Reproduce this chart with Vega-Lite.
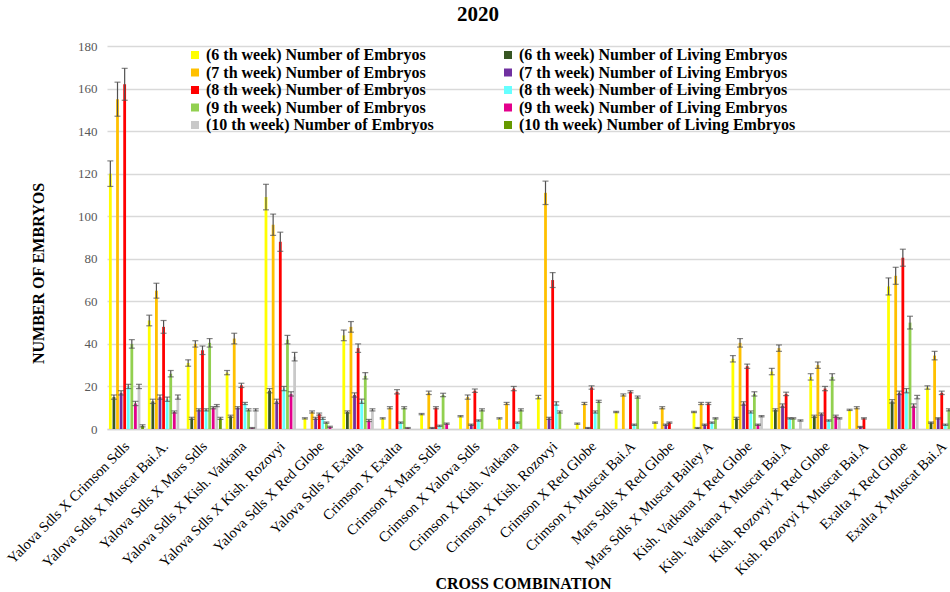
{
  "$schema": "https://vega.github.io/schema/vega-lite/v6.json",
  "autosize": "none",
  "width": 856,
  "height": 383,
  "padding": {"left": 107, "top": 46, "right": 0, "bottom": 163},
  "background": "white",
  "title": {"text": "2020", "font": "Liberation Serif", "fontSize": 21, "fontWeight": "bold", "color": "black", "anchor": "middle", "dx": -57, "offset": 15},
  "config": {"view": {"stroke": null}, "font": "Liberation Serif"},
  "data": {"values": [
{"c":"Yalova Sdls X Crimson Sdls","s":"(6 th week) Number of Embryos","v":120,"lo":114,"hi":126},
{"c":"Yalova Sdls X Crimson Sdls","s":"(6 th week) Number of Living Embryos","v":15,"lo":14,"hi":16},
{"c":"Yalova Sdls X Crimson Sdls","s":"(7 th week) Number of Embryos","v":155,"lo":147,"hi":163},
{"c":"Yalova Sdls X Crimson Sdls","s":"(7 th week) Number of Living Embryos","v":17,"lo":16,"hi":18},
{"c":"Yalova Sdls X Crimson Sdls","s":"(8 th week) Number of Embryos","v":162,"lo":154.5,"hi":169.5},
{"c":"Yalova Sdls X Crimson Sdls","s":"(8 th week) Number of Living Embryos","v":20,"lo":19,"hi":21},
{"c":"Yalova Sdls X Crimson Sdls","s":"(9 th week) Number of Embryos","v":40,"lo":38,"hi":42},
{"c":"Yalova Sdls X Crimson Sdls","s":"(9 th week) Number of Living Embryos","v":12,"lo":11,"hi":13},
{"c":"Yalova Sdls X Crimson Sdls","s":"(10 th week) Number of Embryos","v":20,"lo":19,"hi":21},
{"c":"Yalova Sdls X Crimson Sdls","s":"(10 th week) Number of Living Embryos","v":1.5,"lo":1,"hi":2},
{"c":"Yalova Sdls X Muscat Bai.A.","s":"(6 th week) Number of Embryos","v":51,"lo":48.5,"hi":53.5},
{"c":"Yalova Sdls X Muscat Bai.A.","s":"(6 th week) Number of Living Embryos","v":13,"lo":12,"hi":14},
{"c":"Yalova Sdls X Muscat Bai.A.","s":"(7 th week) Number of Embryos","v":65,"lo":61.5,"hi":68.5},
{"c":"Yalova Sdls X Muscat Bai.A.","s":"(7 th week) Number of Living Embryos","v":15,"lo":14,"hi":16},
{"c":"Yalova Sdls X Muscat Bai.A.","s":"(8 th week) Number of Embryos","v":48,"lo":45,"hi":51},
{"c":"Yalova Sdls X Muscat Bai.A.","s":"(8 th week) Number of Living Embryos","v":14,"lo":13,"hi":15},
{"c":"Yalova Sdls X Muscat Bai.A.","s":"(9 th week) Number of Embryos","v":26,"lo":24.5,"hi":27.5},
{"c":"Yalova Sdls X Muscat Bai.A.","s":"(9 th week) Number of Living Embryos","v":8,"lo":7.5,"hi":8.5},
{"c":"Yalova Sdls X Muscat Bai.A.","s":"(10 th week) Number of Embryos","v":15,"lo":14,"hi":16},
{"c":"Yalova Sdls X Muscat Bai.A.","s":"(10 th week) Number of Living Embryos","v":0},
{"c":"Yalova Sdls X Mars Sdls","s":"(6 th week) Number of Embryos","v":31,"lo":29.5,"hi":32.5},
{"c":"Yalova Sdls X Mars Sdls","s":"(6 th week) Number of Living Embryos","v":5,"lo":4.5,"hi":5.5},
{"c":"Yalova Sdls X Mars Sdls","s":"(7 th week) Number of Embryos","v":40,"lo":38.5,"hi":41.5},
{"c":"Yalova Sdls X Mars Sdls","s":"(7 th week) Number of Living Embryos","v":9,"lo":8.5,"hi":9.5},
{"c":"Yalova Sdls X Mars Sdls","s":"(8 th week) Number of Embryos","v":37,"lo":35,"hi":39},
{"c":"Yalova Sdls X Mars Sdls","s":"(8 th week) Number of Living Embryos","v":9,"lo":8.5,"hi":9.5},
{"c":"Yalova Sdls X Mars Sdls","s":"(9 th week) Number of Embryos","v":40.5,"lo":38.5,"hi":42.5},
{"c":"Yalova Sdls X Mars Sdls","s":"(9 th week) Number of Living Embryos","v":10,"lo":9.5,"hi":10.5},
{"c":"Yalova Sdls X Mars Sdls","s":"(10 th week) Number of Embryos","v":11,"lo":10.5,"hi":11.5},
{"c":"Yalova Sdls X Mars Sdls","s":"(10 th week) Number of Living Embryos","v":5,"lo":4.5,"hi":5.5},
{"c":"Yalova Sdls X Kish. Vatkana","s":"(6 th week) Number of Embryos","v":26.5,"lo":25.5,"hi":27.5},
{"c":"Yalova Sdls X Kish. Vatkana","s":"(6 th week) Number of Living Embryos","v":6,"lo":5.5,"hi":6.5},
{"c":"Yalova Sdls X Kish. Vatkana","s":"(7 th week) Number of Embryos","v":42.5,"lo":40,"hi":45},
{"c":"Yalova Sdls X Kish. Vatkana","s":"(7 th week) Number of Living Embryos","v":10,"lo":9.5,"hi":10.5},
{"c":"Yalova Sdls X Kish. Vatkana","s":"(8 th week) Number of Embryos","v":20.5,"lo":19.5,"hi":21.5},
{"c":"Yalova Sdls X Kish. Vatkana","s":"(8 th week) Number of Living Embryos","v":12,"lo":11.5,"hi":12.5},
{"c":"Yalova Sdls X Kish. Vatkana","s":"(9 th week) Number of Embryos","v":9,"lo":8.5,"hi":9.5},
{"c":"Yalova Sdls X Kish. Vatkana","s":"(9 th week) Number of Living Embryos","v":0.5,"lo":0.3,"hi":0.7},
{"c":"Yalova Sdls X Kish. Vatkana","s":"(10 th week) Number of Embryos","v":9,"lo":8.5,"hi":9.5},
{"c":"Yalova Sdls X Kish. Vatkana","s":"(10 th week) Number of Living Embryos","v":0},
{"c":"Yalova Sdls X Kish. Rozovyi","s":"(6 th week) Number of Embryos","v":109,"lo":103,"hi":115},
{"c":"Yalova Sdls X Kish. Rozovyi","s":"(6 th week) Number of Living Embryos","v":18,"lo":17,"hi":19},
{"c":"Yalova Sdls X Kish. Rozovyi","s":"(7 th week) Number of Embryos","v":96,"lo":91,"hi":101},
{"c":"Yalova Sdls X Kish. Rozovyi","s":"(7 th week) Number of Living Embryos","v":13,"lo":12,"hi":14},
{"c":"Yalova Sdls X Kish. Rozovyi","s":"(8 th week) Number of Embryos","v":88,"lo":83.5,"hi":92.5},
{"c":"Yalova Sdls X Kish. Rozovyi","s":"(8 th week) Number of Living Embryos","v":19,"lo":18,"hi":20},
{"c":"Yalova Sdls X Kish. Rozovyi","s":"(9 th week) Number of Embryos","v":42,"lo":40,"hi":44},
{"c":"Yalova Sdls X Kish. Rozovyi","s":"(9 th week) Number of Living Embryos","v":16.5,"lo":15.5,"hi":17.5},
{"c":"Yalova Sdls X Kish. Rozovyi","s":"(10 th week) Number of Embryos","v":34,"lo":32,"hi":36},
{"c":"Yalova Sdls X Kish. Rozovyi","s":"(10 th week) Number of Living Embryos","v":0},
{"c":"Yalova Sdls X Red Globe","s":"(6 th week) Number of Embryos","v":5,"lo":4.7,"hi":5.3},
{"c":"Yalova Sdls X Red Globe","s":"(6 th week) Number of Living Embryos","v":0},
{"c":"Yalova Sdls X Red Globe","s":"(7 th week) Number of Embryos","v":8,"lo":7.5,"hi":8.5},
{"c":"Yalova Sdls X Red Globe","s":"(7 th week) Number of Living Embryos","v":5,"lo":4.5,"hi":5.5},
{"c":"Yalova Sdls X Red Globe","s":"(8 th week) Number of Embryos","v":7,"lo":6.5,"hi":7.5},
{"c":"Yalova Sdls X Red Globe","s":"(8 th week) Number of Living Embryos","v":5,"lo":4.5,"hi":5.5},
{"c":"Yalova Sdls X Red Globe","s":"(9 th week) Number of Embryos","v":3,"lo":2.7,"hi":3.3},
{"c":"Yalova Sdls X Red Globe","s":"(9 th week) Number of Living Embryos","v":1,"lo":0.7,"hi":1.3},
{"c":"Yalova Sdls X Red Globe","s":"(10 th week) Number of Embryos","v":0},
{"c":"Yalova Sdls X Red Globe","s":"(10 th week) Number of Living Embryos","v":0},
{"c":"Yalova Sdls X Exalta","s":"(6 th week) Number of Embryos","v":44,"lo":41.5,"hi":46.5},
{"c":"Yalova Sdls X Exalta","s":"(6 th week) Number of Living Embryos","v":8,"lo":7.5,"hi":8.5},
{"c":"Yalova Sdls X Exalta","s":"(7 th week) Number of Embryos","v":48,"lo":45.5,"hi":50.5},
{"c":"Yalova Sdls X Exalta","s":"(7 th week) Number of Living Embryos","v":16,"lo":15,"hi":17},
{"c":"Yalova Sdls X Exalta","s":"(8 th week) Number of Embryos","v":38,"lo":36,"hi":40},
{"c":"Yalova Sdls X Exalta","s":"(8 th week) Number of Living Embryos","v":13,"lo":12,"hi":14},
{"c":"Yalova Sdls X Exalta","s":"(9 th week) Number of Embryos","v":25,"lo":23.5,"hi":26.5},
{"c":"Yalova Sdls X Exalta","s":"(9 th week) Number of Living Embryos","v":4,"lo":3.5,"hi":4.5},
{"c":"Yalova Sdls X Exalta","s":"(10 th week) Number of Embryos","v":9,"lo":8.5,"hi":9.5},
{"c":"Yalova Sdls X Exalta","s":"(10 th week) Number of Living Embryos","v":0},
{"c":"Crimson X Exalta","s":"(6 th week) Number of Embryos","v":5,"lo":4.7,"hi":5.3},
{"c":"Crimson X Exalta","s":"(6 th week) Number of Living Embryos","v":0},
{"c":"Crimson X Exalta","s":"(7 th week) Number of Embryos","v":10,"lo":9.5,"hi":10.5},
{"c":"Crimson X Exalta","s":"(7 th week) Number of Living Embryos","v":0},
{"c":"Crimson X Exalta","s":"(8 th week) Number of Embryos","v":17.5,"lo":16.5,"hi":18.5},
{"c":"Crimson X Exalta","s":"(8 th week) Number of Living Embryos","v":3,"lo":2.7,"hi":3.3},
{"c":"Crimson X Exalta","s":"(9 th week) Number of Embryos","v":10,"lo":9.5,"hi":10.5},
{"c":"Crimson X Exalta","s":"(9 th week) Number of Living Embryos","v":0.5,"lo":0.3,"hi":0.7},
{"c":"Crimson X Exalta","s":"(10 th week) Number of Embryos","v":0},
{"c":"Crimson X Exalta","s":"(10 th week) Number of Living Embryos","v":0},
{"c":"Crimson  X Mars Sdls","s":"(6 th week) Number of Embryos","v":7,"lo":6.7,"hi":7.3},
{"c":"Crimson  X Mars Sdls","s":"(6 th week) Number of Living Embryos","v":0},
{"c":"Crimson  X Mars Sdls","s":"(7 th week) Number of Embryos","v":17,"lo":16.2,"hi":17.8},
{"c":"Crimson  X Mars Sdls","s":"(7 th week) Number of Living Embryos","v":0.5,"lo":0.3,"hi":0.7},
{"c":"Crimson  X Mars Sdls","s":"(8 th week) Number of Embryos","v":10,"lo":9.5,"hi":10.5},
{"c":"Crimson  X Mars Sdls","s":"(8 th week) Number of Living Embryos","v":1.5,"lo":1.2,"hi":1.8},
{"c":"Crimson  X Mars Sdls","s":"(9 th week) Number of Embryos","v":16,"lo":15.2,"hi":16.8},
{"c":"Crimson  X Mars Sdls","s":"(9 th week) Number of Living Embryos","v":2.5,"lo":2.2,"hi":2.8},
{"c":"Crimson  X Mars Sdls","s":"(10 th week) Number of Embryos","v":0},
{"c":"Crimson  X Mars Sdls","s":"(10 th week) Number of Living Embryos","v":0},
{"c":"Crimson  X Yalova Sdls","s":"(6 th week) Number of Embryos","v":6,"lo":5.7,"hi":6.3},
{"c":"Crimson  X Yalova Sdls","s":"(6 th week) Number of Living Embryos","v":0},
{"c":"Crimson  X Yalova Sdls","s":"(7 th week) Number of Embryos","v":15,"lo":14,"hi":16},
{"c":"Crimson  X Yalova Sdls","s":"(7 th week) Number of Living Embryos","v":2,"lo":1.7,"hi":2.3},
{"c":"Crimson  X Yalova Sdls","s":"(8 th week) Number of Embryos","v":18,"lo":17.2,"hi":18.8},
{"c":"Crimson  X Yalova Sdls","s":"(8 th week) Number of Living Embryos","v":4,"lo":3.7,"hi":4.3},
{"c":"Crimson  X Yalova Sdls","s":"(9 th week) Number of Embryos","v":9,"lo":8.5,"hi":9.5},
{"c":"Crimson  X Yalova Sdls","s":"(9 th week) Number of Living Embryos","v":0},
{"c":"Crimson  X Yalova Sdls","s":"(10 th week) Number of Embryos","v":0},
{"c":"Crimson  X Yalova Sdls","s":"(10 th week) Number of Living Embryos","v":0},
{"c":"Crimson X Kish. Vatkana","s":"(6 th week) Number of Embryos","v":5,"lo":4.7,"hi":5.3},
{"c":"Crimson X Kish. Vatkana","s":"(6 th week) Number of Living Embryos","v":0},
{"c":"Crimson X Kish. Vatkana","s":"(7 th week) Number of Embryos","v":12,"lo":11.5,"hi":12.5},
{"c":"Crimson X Kish. Vatkana","s":"(7 th week) Number of Living Embryos","v":0},
{"c":"Crimson X Kish. Vatkana","s":"(8 th week) Number of Embryos","v":19,"lo":18,"hi":20},
{"c":"Crimson X Kish. Vatkana","s":"(8 th week) Number of Living Embryos","v":3,"lo":2.7,"hi":3.3},
{"c":"Crimson X Kish. Vatkana","s":"(9 th week) Number of Embryos","v":9,"lo":8.5,"hi":9.5},
{"c":"Crimson X Kish. Vatkana","s":"(9 th week) Number of Living Embryos","v":0},
{"c":"Crimson X Kish. Vatkana","s":"(10 th week) Number of Embryos","v":0},
{"c":"Crimson X Kish. Vatkana","s":"(10 th week) Number of Living Embryos","v":0},
{"c":"Crimson  X Kish. Rozovyi","s":"(6 th week) Number of Embryos","v":15,"lo":14.2,"hi":15.8},
{"c":"Crimson  X Kish. Rozovyi","s":"(6 th week) Number of Living Embryos","v":0},
{"c":"Crimson  X Kish. Rozovyi","s":"(7 th week) Number of Embryos","v":111,"lo":105.5,"hi":116.5},
{"c":"Crimson  X Kish. Rozovyi","s":"(7 th week) Number of Living Embryos","v":5,"lo":4.5,"hi":5.5},
{"c":"Crimson  X Kish. Rozovyi","s":"(8 th week) Number of Embryos","v":70,"lo":66.5,"hi":73.5},
{"c":"Crimson  X Kish. Rozovyi","s":"(8 th week) Number of Living Embryos","v":12,"lo":11.2,"hi":12.8},
{"c":"Crimson  X Kish. Rozovyi","s":"(9 th week) Number of Embryos","v":8,"lo":7.5,"hi":8.5},
{"c":"Crimson  X Kish. Rozovyi","s":"(9 th week) Number of Living Embryos","v":0},
{"c":"Crimson  X Kish. Rozovyi","s":"(10 th week) Number of Embryos","v":0},
{"c":"Crimson  X Kish. Rozovyi","s":"(10 th week) Number of Living Embryos","v":0},
{"c":"Crimson X Red Globe","s":"(6 th week) Number of Embryos","v":2.5,"lo":2.2,"hi":2.8},
{"c":"Crimson X Red Globe","s":"(6 th week) Number of Living Embryos","v":0},
{"c":"Crimson X Red Globe","s":"(7 th week) Number of Embryos","v":12,"lo":11.5,"hi":12.5},
{"c":"Crimson X Red Globe","s":"(7 th week) Number of Living Embryos","v":0.5,"lo":0.3,"hi":0.7},
{"c":"Crimson X Red Globe","s":"(8 th week) Number of Embryos","v":19.5,"lo":18.7,"hi":20.3},
{"c":"Crimson X Red Globe","s":"(8 th week) Number of Living Embryos","v":8,"lo":7.5,"hi":8.5},
{"c":"Crimson X Red Globe","s":"(9 th week) Number of Embryos","v":13,"lo":12.5,"hi":13.5},
{"c":"Crimson X Red Globe","s":"(9 th week) Number of Living Embryos","v":0},
{"c":"Crimson X Red Globe","s":"(10 th week) Number of Embryos","v":0},
{"c":"Crimson X Red Globe","s":"(10 th week) Number of Living Embryos","v":0},
{"c":"Crimson  X Muscat Bai.A","s":"(6 th week) Number of Embryos","v":8,"lo":7.7,"hi":8.3},
{"c":"Crimson  X Muscat Bai.A","s":"(6 th week) Number of Living Embryos","v":0},
{"c":"Crimson  X Muscat Bai.A","s":"(7 th week) Number of Embryos","v":16,"lo":15.5,"hi":16.5},
{"c":"Crimson  X Muscat Bai.A","s":"(7 th week) Number of Living Embryos","v":0},
{"c":"Crimson  X Muscat Bai.A","s":"(8 th week) Number of Embryos","v":17.5,"lo":17,"hi":18},
{"c":"Crimson  X Muscat Bai.A","s":"(8 th week) Number of Living Embryos","v":2,"lo":1.7,"hi":2.3},
{"c":"Crimson  X Muscat Bai.A","s":"(9 th week) Number of Embryos","v":15,"lo":14.5,"hi":15.5},
{"c":"Crimson  X Muscat Bai.A","s":"(9 th week) Number of Living Embryos","v":0},
{"c":"Crimson  X Muscat Bai.A","s":"(10 th week) Number of Embryos","v":0},
{"c":"Crimson  X Muscat Bai.A","s":"(10 th week) Number of Living Embryos","v":0},
{"c":"Mars Sdls X Red Globe","s":"(6 th week) Number of Embryos","v":3,"lo":2.7,"hi":3.3},
{"c":"Mars Sdls X Red Globe","s":"(6 th week) Number of Living Embryos","v":0},
{"c":"Mars Sdls X Red Globe","s":"(7 th week) Number of Embryos","v":10,"lo":9.5,"hi":10.5},
{"c":"Mars Sdls X Red Globe","s":"(7 th week) Number of Living Embryos","v":2,"lo":1.7,"hi":2.3},
{"c":"Mars Sdls X Red Globe","s":"(8 th week) Number of Embryos","v":3,"lo":2.7,"hi":3.3},
{"c":"Mars Sdls X Red Globe","s":"(8 th week) Number of Living Embryos","v":0},
{"c":"Mars Sdls X Red Globe","s":"(9 th week) Number of Embryos","v":0},
{"c":"Mars Sdls X Red Globe","s":"(9 th week) Number of Living Embryos","v":0},
{"c":"Mars Sdls X Red Globe","s":"(10 th week) Number of Embryos","v":0},
{"c":"Mars Sdls X Red Globe","s":"(10 th week) Number of Living Embryos","v":0},
{"c":"Mars Sdls X Muscat Bailey A","s":"(6 th week) Number of Embryos","v":8,"lo":7.7,"hi":8.3},
{"c":"Mars Sdls X Muscat Bailey A","s":"(6 th week) Number of Living Embryos","v":0.5,"lo":0.3,"hi":0.7},
{"c":"Mars Sdls X Muscat Bailey A","s":"(7 th week) Number of Embryos","v":12,"lo":11.5,"hi":12.5},
{"c":"Mars Sdls X Muscat Bailey A","s":"(7 th week) Number of Living Embryos","v":2,"lo":1.7,"hi":2.3},
{"c":"Mars Sdls X Muscat Bailey A","s":"(8 th week) Number of Embryos","v":12,"lo":11.5,"hi":12.5},
{"c":"Mars Sdls X Muscat Bailey A","s":"(8 th week) Number of Living Embryos","v":3,"lo":2.7,"hi":3.3},
{"c":"Mars Sdls X Muscat Bailey A","s":"(9 th week) Number of Embryos","v":5,"lo":4.7,"hi":5.3},
{"c":"Mars Sdls X Muscat Bailey A","s":"(9 th week) Number of Living Embryos","v":0},
{"c":"Mars Sdls X Muscat Bailey A","s":"(10 th week) Number of Embryos","v":0},
{"c":"Mars Sdls X Muscat Bailey A","s":"(10 th week) Number of Living Embryos","v":0},
{"c":"Kish. Vatkana X Red Globe","s":"(6 th week) Number of Embryos","v":33,"lo":31.5,"hi":34.5},
{"c":"Kish. Vatkana X Red Globe","s":"(6 th week) Number of Living Embryos","v":5,"lo":4.5,"hi":5.5},
{"c":"Kish. Vatkana X Red Globe","s":"(7 th week) Number of Embryos","v":40.5,"lo":38.5,"hi":42.5},
{"c":"Kish. Vatkana X Red Globe","s":"(7 th week) Number of Living Embryos","v":12,"lo":11.2,"hi":12.8},
{"c":"Kish. Vatkana X Red Globe","s":"(8 th week) Number of Embryos","v":29.5,"lo":28.5,"hi":30.5},
{"c":"Kish. Vatkana X Red Globe","s":"(8 th week) Number of Living Embryos","v":8,"lo":7.5,"hi":8.5},
{"c":"Kish. Vatkana X Red Globe","s":"(9 th week) Number of Embryos","v":16.5,"lo":15.5,"hi":17.5},
{"c":"Kish. Vatkana X Red Globe","s":"(9 th week) Number of Living Embryos","v":2,"lo":1.7,"hi":2.3},
{"c":"Kish. Vatkana X Red Globe","s":"(10 th week) Number of Embryos","v":6,"lo":5.7,"hi":6.3},
{"c":"Kish. Vatkana X Red Globe","s":"(10 th week) Number of Living Embryos","v":0},
{"c":"Kish. Vatkana X Muscat Bai.A","s":"(6 th week) Number of Embryos","v":27,"lo":25.5,"hi":28.5},
{"c":"Kish. Vatkana X Muscat Bai.A","s":"(6 th week) Number of Living Embryos","v":9,"lo":8.5,"hi":9.5},
{"c":"Kish. Vatkana X Muscat Bai.A","s":"(7 th week) Number of Embryos","v":38,"lo":36.5,"hi":39.5},
{"c":"Kish. Vatkana X Muscat Bai.A","s":"(7 th week) Number of Living Embryos","v":11,"lo":10.2,"hi":11.8},
{"c":"Kish. Vatkana X Muscat Bai.A","s":"(8 th week) Number of Embryos","v":16.5,"lo":15.7,"hi":17.3},
{"c":"Kish. Vatkana X Muscat Bai.A","s":"(8 th week) Number of Living Embryos","v":5,"lo":4.7,"hi":5.3},
{"c":"Kish. Vatkana X Muscat Bai.A","s":"(9 th week) Number of Embryos","v":5,"lo":4.7,"hi":5.3},
{"c":"Kish. Vatkana X Muscat Bai.A","s":"(9 th week) Number of Living Embryos","v":0},
{"c":"Kish. Vatkana X Muscat Bai.A","s":"(10 th week) Number of Embryos","v":4,"lo":3.7,"hi":4.3},
{"c":"Kish. Vatkana X Muscat Bai.A","s":"(10 th week) Number of Living Embryos","v":0},
{"c":"Kish. Rozovyi X Red Globe","s":"(6 th week) Number of Embryos","v":24.5,"lo":23,"hi":26},
{"c":"Kish. Rozovyi X Red Globe","s":"(6 th week) Number of Living Embryos","v":6,"lo":5.5,"hi":6.5},
{"c":"Kish. Rozovyi X Red Globe","s":"(7 th week) Number of Embryos","v":30,"lo":28.5,"hi":31.5},
{"c":"Kish. Rozovyi X Red Globe","s":"(7 th week) Number of Living Embryos","v":7,"lo":6.5,"hi":7.5},
{"c":"Kish. Rozovyi X Red Globe","s":"(8 th week) Number of Embryos","v":19,"lo":18,"hi":20},
{"c":"Kish. Rozovyi X Red Globe","s":"(8 th week) Number of Living Embryos","v":4,"lo":3.7,"hi":4.3},
{"c":"Kish. Rozovyi X Red Globe","s":"(9 th week) Number of Embryos","v":24.5,"lo":23,"hi":26},
{"c":"Kish. Rozovyi X Red Globe","s":"(9 th week) Number of Living Embryos","v":6,"lo":5.5,"hi":6.5},
{"c":"Kish. Rozovyi X Red Globe","s":"(10 th week) Number of Embryos","v":5,"lo":4.7,"hi":5.3},
{"c":"Kish. Rozovyi X Red Globe","s":"(10 th week) Number of Living Embryos","v":0},
{"c":"Kish. Rozovyi X Muscat Bai.A","s":"(6 th week) Number of Embryos","v":9,"lo":8.7,"hi":9.3},
{"c":"Kish. Rozovyi X Muscat Bai.A","s":"(6 th week) Number of Living Embryos","v":0},
{"c":"Kish. Rozovyi X Muscat Bai.A","s":"(7 th week) Number of Embryos","v":10,"lo":9.5,"hi":10.5},
{"c":"Kish. Rozovyi X Muscat Bai.A","s":"(7 th week) Number of Living Embryos","v":1,"lo":0.8,"hi":1.2},
{"c":"Kish. Rozovyi X Muscat Bai.A","s":"(8 th week) Number of Embryos","v":5,"lo":4.7,"hi":5.3},
{"c":"Kish. Rozovyi X Muscat Bai.A","s":"(8 th week) Number of Living Embryos","v":0},
{"c":"Kish. Rozovyi X Muscat Bai.A","s":"(9 th week) Number of Embryos","v":0},
{"c":"Kish. Rozovyi X Muscat Bai.A","s":"(9 th week) Number of Living Embryos","v":0},
{"c":"Kish. Rozovyi X Muscat Bai.A","s":"(10 th week) Number of Embryos","v":0},
{"c":"Kish. Rozovyi X Muscat Bai.A","s":"(10 th week) Number of Living Embryos","v":0},
{"c":"Exalta X Red Globe","s":"(6 th week) Number of Embryos","v":67,"lo":63,"hi":71},
{"c":"Exalta X Red Globe","s":"(6 th week) Number of Living Embryos","v":13,"lo":12.2,"hi":13.8},
{"c":"Exalta X Red Globe","s":"(7 th week) Number of Embryos","v":72,"lo":68,"hi":76},
{"c":"Exalta X Red Globe","s":"(7 th week) Number of Living Embryos","v":17,"lo":16.2,"hi":17.8},
{"c":"Exalta X Red Globe","s":"(8 th week) Number of Embryos","v":80.5,"lo":76.5,"hi":84.5},
{"c":"Exalta X Red Globe","s":"(8 th week) Number of Living Embryos","v":18,"lo":17,"hi":19},
{"c":"Exalta X Red Globe","s":"(9 th week) Number of Embryos","v":50,"lo":47,"hi":53},
{"c":"Exalta X Red Globe","s":"(9 th week) Number of Living Embryos","v":11,"lo":10.2,"hi":11.8},
{"c":"Exalta X Red Globe","s":"(10 th week) Number of Embryos","v":15,"lo":14.2,"hi":15.8},
{"c":"Exalta X Red Globe","s":"(10 th week) Number of Living Embryos","v":0},
{"c":"Exalta X Muscat Bai.A","s":"(6 th week) Number of Embryos","v":19.5,"lo":18.7,"hi":20.3},
{"c":"Exalta X Muscat Bai.A","s":"(6 th week) Number of Living Embryos","v":3,"lo":2.7,"hi":3.3},
{"c":"Exalta X Muscat Bai.A","s":"(7 th week) Number of Embryos","v":34.5,"lo":32.5,"hi":36.5},
{"c":"Exalta X Muscat Bai.A","s":"(7 th week) Number of Living Embryos","v":5,"lo":4.7,"hi":5.3},
{"c":"Exalta X Muscat Bai.A","s":"(8 th week) Number of Embryos","v":17,"lo":16.2,"hi":17.8},
{"c":"Exalta X Muscat Bai.A","s":"(8 th week) Number of Living Embryos","v":2,"lo":1.7,"hi":2.3},
{"c":"Exalta X Muscat Bai.A","s":"(9 th week) Number of Embryos","v":9,"lo":8.5,"hi":9.5},
{"c":"Exalta X Muscat Bai.A","s":"(9 th week) Number of Living Embryos","v":0},
{"c":"Exalta X Muscat Bai.A","s":"(10 th week) Number of Embryos","v":0},
{"c":"Exalta X Muscat Bai.A","s":"(10 th week) Number of Living Embryos","v":0}
  ]},
  "encoding": {
    "x": {"field": "c", "type": "nominal", "sort": null,
      "scale": {"paddingInner": 0.1, "paddingOuter": 0.05},
      "axis": {"title": "CROSS COMBINATION", "titleFont": "Liberation Serif", "titleFontSize": 16, "titleFontWeight": "bold", "titleColor": "black", "titleX": 416, "titleY": 154, "titleAlign": "center", "titleBaseline": "middle",
        "labelAngle": -45, "labelFont": "Liberation Serif", "labelFontSize": 14.5, "labelColor": "black", "labelPadding": 10, "labelOffset": -4, "labelLimit": 300,
        "ticks": false, "domainColor": "#d0d0d0", "domainWidth": 1.5, "grid": false}},
    "xOffset": {"field": "s", "type": "nominal",
      "scale": {"domain": ["(6 th week) Number of Embryos","(6 th week) Number of Living Embryos","(7 th week) Number of Embryos","(7 th week) Number of Living Embryos","(8 th week) Number of Embryos","(8 th week) Number of Living Embryos","(9 th week) Number of Embryos","(9 th week) Number of Living Embryos","(10 th week) Number of Embryos","(10 th week) Number of Living Embryos"], "paddingInner": 0.22}}
  },
  "layer": [
    {
      "mark": {"type": "bar"},
      "encoding": {
        "y": {"field": "v", "type": "quantitative",
          "scale": {"domain": [0, 180], "nice": false},
          "axis": {"values": [0,20,40,60,80,100,120,140,160,180], "title": "NUMBER OF EMBRYOS", "titleFont": "Liberation Serif", "titleFontSize": 16, "titleFontWeight": "bold", "titleColor": "black", "titleX": -69, "titleY": 227, "titleAngle": -90, "titleAlign": "center", "titleBaseline": "middle",
            "labelFont": "Liberation Serif", "labelFontSize": 13, "labelColor": "#595959", "labelPadding": 10,
            "ticks": false, "domain": false, "gridColor": "#d9d9d9", "gridWidth": 1.5}},
        "color": {"field": "s", "type": "nominal",
          "scale": {"domain": ["(6 th week) Number of Embryos","(7 th week) Number of Embryos","(8 th week) Number of Embryos","(9 th week) Number of Embryos","(10 th week) Number of Embryos","(6 th week) Number of Living Embryos","(7 th week) Number of Living Embryos","(8 th week) Number of Living Embryos","(9 th week) Number of Living Embryos","(10 th week) Number of Living Embryos"],
            "range": ["#FFFF00","#FFC000","#FF0000","#92D050","#C9C9C9","#375623","#7030A0","#66FFFF","#E3008C","#669900"]},
          "legend": {"title": null, "orient": "none", "legendX": 80, "legendY": 1, "columns": 2, "columnPadding": 66, "rowPadding": 1.5, "padding": 0,
            "symbolType": "square", "symbolSize": 64, "symbolStrokeWidth": 0, "labelFont": "Liberation Serif", "labelFontSize": 16, "labelFontWeight": "bold", "labelColor": "black", "labelLimit": 400, "labelOffset": 3}}
      }
    },
    {
      "transform": [{"filter": "datum.hi > 0"}],
      "mark": {"type": "rule", "color": "#505050", "strokeWidth": 1.2},
      "encoding": {"y": {"field": "lo", "type": "quantitative"}, "y2": {"field": "hi"}}
    },
    {
      "transform": [{"filter": "datum.hi > 0"}],
      "mark": {"type": "tick", "color": "#505050", "size": 6, "thickness": 1.2},
      "encoding": {"y": {"field": "lo", "type": "quantitative"}}
    },
    {
      "transform": [{"filter": "datum.hi > 0"}],
      "mark": {"type": "tick", "color": "#505050", "size": 6, "thickness": 1.2},
      "encoding": {"y": {"field": "hi", "type": "quantitative"}}
    }
  ]
}
